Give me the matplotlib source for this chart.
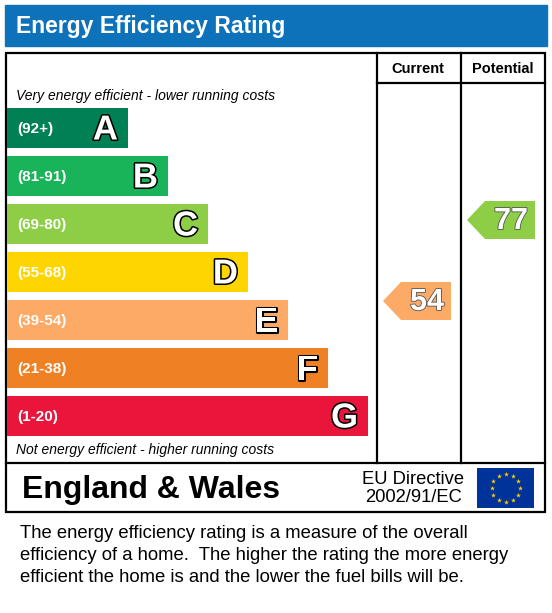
import matplotlib
matplotlib.use("Agg")
import matplotlib.pyplot as plt
from matplotlib.patches import Rectangle, Polygon
import matplotlib.patheffects as pe
import numpy as np

letters = ["A", "B", "C", "D", "E", "F", "G"]
ranges = ["(92+)", "(81-91)", "(69-80)", "(55-68)", "(39-54)", "(21-38)", "(1-20)"]
band_max = [100, 91, 80, 68, 54, 38, 20]
band_min = [92, 81, 69, 55, 39, 21, 1]
colors = ["#008054", "#19b459", "#8dce46", "#ffd500", "#fcaa65", "#ef8023", "#e9153b"]
current = 54
potential = 77

W, H = 552, 613
fig = plt.figure(figsize=(W/100, H/100), dpi=100)
ax = fig.add_axes([0, 0, 1, 1])
ax.set_xlim(0, W); ax.set_ylim(H, 0); ax.axis("off")
font = "Liberation Sans"
stroke = [pe.withStroke(linewidth=2.2, foreground="black")]

ax.add_patch(Rectangle((5, 5), 542, 41, color="#0d72ba"))
ax.text(16, 26, "Energy Efficiency Rating", color="white", fontsize=16.5, fontweight="bold",
        va="center", family=font)

lw = 1.6
ax.add_patch(Rectangle((6, 53), 539, 459, fill=False, lw=lw, ec="black"))
for x in (377, 461):
    ax.plot([x, x], [53, 463], color="black", lw=lw)
ax.plot([377, 545], [83, 83], color="black", lw=lw)
ax.plot([6, 545], [463, 463], color="black", lw=lw)
ax.text(418, 69, "Current", ha="center", va="center", fontsize=10.5, fontweight="bold", family=font)
ax.text(503, 69, "Potential", ha="center", va="center", fontsize=10.5, fontweight="bold", family=font)
ax.text(16, 96, "Very energy efficient - lower running costs", fontsize=10, style="italic",
        va="center", family=font)
ax.text(16, 450, "Not energy efficient - higher running costs", fontsize=10, style="italic",
        va="center", family=font)

top0, step, bh = 108, 48, 40
for i, (L, r, c) in enumerate(zip(letters, ranges, colors)):
    y = top0 + i*step
    x1 = 128 + 40*i
    ax.add_patch(Rectangle((7, y), x1-7, bh, color=c, lw=0))
    ax.text(17, y+bh/2+1, r, color="white", fontsize=11, fontweight="bold", va="center", family=font)
    ax.text(x1-10, y+bh/2+2, L, color="white", fontsize=25, fontweight="bold", va="center",
            ha="right", family=font, path_effects=stroke)

def band_of(v):
    for i in range(7):
        if band_min[i] <= v <= band_max[i]:
            return i

def arrow(v, x0, x1, yc):
    i = band_of(v)
    h = 38
    pts = [(x0, yc), (x0+18, yc-h/2), (x1, yc-h/2), (x1, yc+h/2), (x0+18, yc+h/2)]
    ax.add_patch(Polygon(pts, color=colors[i], lw=0))
    ax.text(x1-7, yc+1, str(v), color="white", fontsize=22, fontweight="bold", ha="right",
            va="center", family=font, path_effects=[pe.withStroke(linewidth=1.2, foreground="#555555")])

arrow(current, 383, 451, 301)
arrow(potential, 467, 535, 220)

ax.text(22, 490, "England & Wales", fontsize=23, fontweight="bold", va="center", family=font)
ax.text(413, 479, "EU Directive", fontsize=13.2, ha="center", va="center", family=font)
ax.text(413, 498, "2002/91/EC", fontsize=13.2, ha="center", va="center", family=font)
ax.add_patch(Rectangle((477, 468), 57, 40, color="#003399", lw=0))
ang = np.linspace(0, 2*np.pi, 13)[:-1]
ax.scatter(505.5 + 14*np.sin(ang), 488 - 14*np.cos(ang), marker="*", s=14, color="#ffcc00", lw=0)

desc = ["The energy efficiency rating is a measure of the overall",
        "efficiency of a home.  The higher the rating the more energy",
        "efficient the home is and the lower the fuel bills will be."]
for k, line in enumerate(desc):
    ax.text(20, 534 + 21.5*k, line, fontsize=13.3, va="center", family=font)

fig.savefig("out.png", dpi=100)
